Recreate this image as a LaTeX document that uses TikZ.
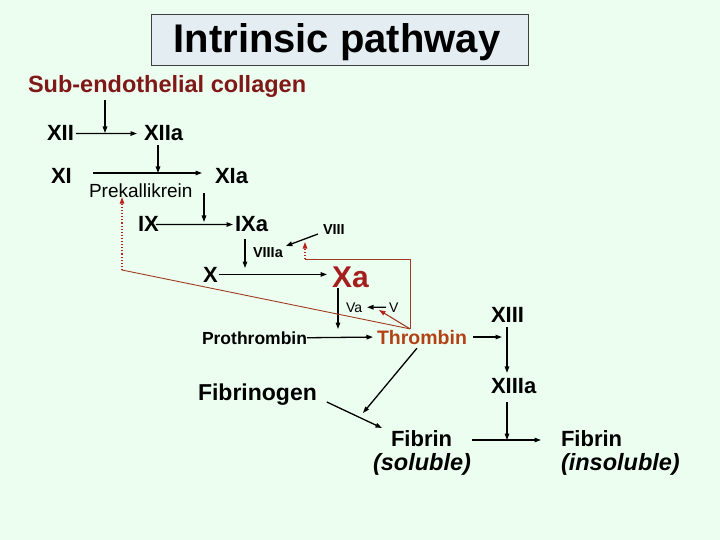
\documentclass[tikz,border=0pt]{standalone}
\usepackage{fontspec}
\setmainfont{Liberation Sans}
\usetikzlibrary{arrows.meta}
\definecolor{bg}{RGB}{236,254,240}
\definecolor{titlefill}{RGB}{228,238,242}
\definecolor{collagenred}{RGB}{128,24,24}
\definecolor{xared}{RGB}{165,30,30}
\definecolor{thrombincol}{RGB}{178,66,22}
\definecolor{fbcol}{RGB}{160,60,35}
\definecolor{fbtip}{RGB}{185,35,30}
\begin{document}
\begin{tikzpicture}[x=1pt,y=-1pt,
  txt/.style={inner sep=0pt, outer sep=0pt, anchor=base west},
  bignum/.style={txt, font=\bfseries\fontsize{22}{26}\selectfont},
  smallnum/.style={txt, font=\bfseries\fontsize{14.5}{17}\selectfont},
  arr/.style={line width=1.3pt, -{Triangle[length=6.5pt,width=4.5pt]}},
  fbline/.style={draw=fbcol, line width=0.9pt},
  fbdot/.style={draw=fbtip, line width=1.1pt, dotted},
  fbarr/.style={-{Triangle[length=6.5pt,width=4.5pt,color=fbtip]}}
]
\useasboundingbox (0,0) rectangle (720,540);
\fill[bg] (0,0) rectangle (720,540);

% title
\node[draw=black!75, line width=0.8pt, fill=titlefill, minimum width=377pt, minimum height=51pt, inner sep=0pt] (titlebox) at (339.5,39.5) {};
\node[txt, anchor=base, font=\bfseries\fontsize{40}{48}\selectfont] (title) at (337,53) {Intrinsic pathway};

% nodes
\node[txt, font=\bfseries\fontsize{23.5}{28}\selectfont, text=collagenred] (collagen) at (28,93) {Sub-endothelial collagen};
\node[bignum] (XII) at (47,141) {XII};
\node[bignum] (XIIa) at (144,141) {XIIa};
\node[bignum] (XI) at (51,184) {XI};
\node[bignum] (XIa) at (215,184) {XIa};
\node[txt, font=\fontsize{19}{23}\selectfont] (prek) at (89,197) {Prekallikrein};
\node[bignum] (IX) at (138,232) {IX};
\node[bignum] (IXa) at (235,232) {IXa};
\node[smallnum] (VIII) at (323,235) {VIII};
\node[smallnum] (VIIIa) at (253,257) {VIIIa};
\node[bignum] (X) at (203,282) {X};
\node[txt, font=\bfseries\fontsize{30}{36}\selectfont, text=xared] (Xa) at (332,287) {Xa};
\node[txt, font=\fontsize{14}{17}\selectfont] (Va) at (346,312) {Va};
\node[txt, font=\fontsize{14}{17}\selectfont] (V) at (389,312) {V};
\node[txt, font=\bfseries\fontsize{17.5}{21}\selectfont] (prothrombin) at (202,344) {Prothrombin};
\node[txt, font=\bfseries\fontsize{19.5}{23}\selectfont, text=thrombincol] (thrombin) at (377,344) {Thrombin};
\node[bignum] (XIII) at (491,322) {XIII};
\node[bignum] (XIIIa) at (491,393) {XIIIa};
\node[txt, font=\bfseries\fontsize{23}{27}\selectfont] (fibrinogen) at (198,400) {Fibrinogen};
\node[txt, font=\bfseries\fontsize{22}{26}\selectfont] (fibrin1) at (391,446) {Fibrin};
\node[txt, font=\bfseries\itshape\fontsize{23.5}{28}\selectfont] (sol) at (373,470) {(soluble)};
\node[txt, font=\bfseries\fontsize{22}{26}\selectfont] (fibrin2) at (561,446) {Fibrin};
\node[txt, font=\bfseries\itshape\fontsize{23.5}{28}\selectfont] (insol) at (561,470) {(insoluble)};

% helper coordinates
\coordinate (m1) at (105,133);
\coordinate (m2) at (158,173);
\coordinate (m3) at (204,222);
\coordinate (m4) at (245,268);
\coordinate (m5) at (338,329);
\coordinate (m6) at (507,338);
\coordinate (m7) at (507,440);

% black arrows
\draw[arr, shorten <=2pt, shorten >=7pt] (XII.east) -- (XIIa.west);
\draw[arr, shorten <=2pt] (collagen.south -| m1) -- (m1);
\draw[arr, shorten <=21pt, shorten >=13pt] (XI.east |- m2) -- (XIa.west |- m2);
\draw[arr, shorten <=4pt] (XIIa.south -| m2) -- (m2);
\draw[arr, shorten <=9pt] (XIa.south -| m3) -- (m3);
\draw[arr, shorten <=-3pt, shorten >=2pt] (IX.east) -- (IXa.west);
\draw[arr, shorten <=7pt] (IXa.south -| m4) -- (m4);
\draw[arr] ([xshift=-5pt,yshift=-4pt]VIII.west) -- ([xshift=3pt,yshift=1pt]VIIIa.north east);
\draw[arr, shorten <=1pt, shorten >=5pt] (X.east) -- (Xa.west |- X.east);
\draw[arr, shorten <=1pt] (Xa.south -| m5) -- (m5);
\draw[arr, shorten <=3pt, shorten >=5pt] (V.west) -- (Va.east);
\draw[arr, shorten >=4pt] (prothrombin.east) -- (thrombin.west);
\draw[arr, shorten <=6pt, shorten >=5pt] (thrombin.east) -- (thrombin.east -| m6);
\draw[arr, shorten <=5pt, shorten >=5pt] (XIII.south -| m6) -- (XIIIa.north -| m6);
\draw[arr, shorten <=9pt] (XIIIa.south -| m7) -- (m7);
\draw[arr, shorten <=20pt, shorten >=20pt] (fibrin1.east |- m7) -- (fibrin2.west |- m7);
\draw[arr] ([xshift=10pt,yshift=-2pt]fibrinogen.base east) -- ([xshift=-9pt,yshift=18pt]fibrin1.base west);
\draw[arr] ([xshift=-5pt,yshift=-4pt]thrombin.south) -- ([xshift=-28pt,yshift=33pt]fibrin1.base west);

% thrombin feedback
\coordinate (fb) at ([xshift=-12pt,yshift=1pt]thrombin.north);
\coordinate (fbV) at (379,310);
\coordinate (fbcorner) at (305,259);
\coordinate (fbVIII) at (305,242);
\coordinate (fbP) at (122,270);
\draw[fbline] (fb) -- (fbP);
\draw[fbdot, fbarr] (fbP) -- (prek.south -| fbP);
\draw[fbline] (fb) |- (fbcorner);
\draw[fbdot, fbarr] (fbcorner) -- (fbVIII);
\draw[fbline, line width=1.1pt, fbarr] (fb) -- (fbV);
\end{tikzpicture}
\end{document}
